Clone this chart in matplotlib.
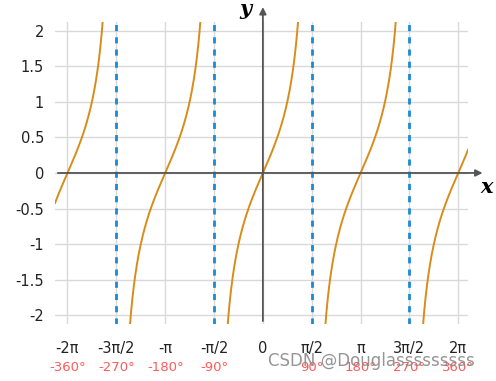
import numpy as np
import matplotlib.pyplot as plt

# tick positions / labels
x_ticks = [-2, -1.5, -1, -0.5, 0, 0.5, 1, 1.5, 2]          # in units of pi
x_labels = ["-2π", "-3π/2", "-π", "-π/2", "0", "π/2", "π", "3π/2", "2π"]
deg_labels = ["-360°", "-270°", "-180°", "-90°", "", "90°", "180°", "270°", "360°"]
y_ticks = [-2, -1.5, -1, -0.5, 0, 0.5, 1, 1.5, 2]
y_labels = ["-2", "-1.5", "-1", "-0.5", "0", "0.5", "1", "1.5", "2"]
asymptotes = [-1.5, -0.5, 0.5, 1.5]                          # in units of pi
x_lim = (-2 * np.pi - 0.4, 2 * np.pi + 0.32)
y_lim = (-2.12, 2.12)

fig = plt.figure(figsize=(4.96, 3.81), dpi=100)
ax = fig.add_axes([0.111, 0.15, 0.833, 0.792])

# tan(x), drawn branch by branch between the asymptotes
edges = [x_lim[0]] + [a * np.pi for a in asymptotes] + [x_lim[1]]
for lo, hi in zip(edges[:-1], edges[1:]):
    xs = np.linspace(lo + 1e-3, hi - 1e-3, 800)
    ys = np.tan(xs)
    ys[np.abs(ys) > 2.2] = np.nan
    ax.plot(xs, ys, color="#d98c1a", lw=1.4, zorder=3)

for a in asymptotes:
    ax.axvline(a * np.pi, color="#1a8ad4", lw=2, ls=(0, (2.2, 2.2)), zorder=2)

ax.set_xlim(*x_lim)
ax.set_ylim(*y_lim)
ax.set_xticks([t * np.pi for t in x_ticks])
ax.set_xticklabels(x_labels)
ax.set_yticks(y_ticks)
ax.set_yticklabels(y_labels)
ax.tick_params(length=0, labelsize=10.5, colors="#222222", pad=8)
ax.tick_params(axis="x", pad=12)
ax.grid(True, color="#d9d9d9", lw=1)
for s in ax.spines.values():
    s.set_visible(False)

# degree labels under the pi labels
for t, d in zip(x_ticks, deg_labels):
    ax.text(t * np.pi, -0.146, d, transform=ax.get_xaxis_transform(),
            ha="center", va="center", color="#ff5a5a", fontsize=9.5)

# axes with arrows
ax.annotate("", xy=(x_lim[1] + 0.55, 0), xytext=(x_lim[0], 0), annotation_clip=False,
            arrowprops=dict(arrowstyle="-|>", color="#555555", lw=1.3, mutation_scale=10))
ax.annotate("", xy=(0, 2.37), xytext=(0, y_lim[0]), annotation_clip=False,
            arrowprops=dict(arrowstyle="-|>", color="#555555", lw=1.3, mutation_scale=10))
ax.text(x_lim[1] + 0.6, -0.2, "x", fontsize=15, family="DejaVu Serif",
        style="italic", weight="bold", ha="center", va="center", clip_on=False)
ax.text(-0.55, 2.3, "y", fontsize=15, family="DejaVu Serif",
        style="italic", weight="bold", ha="center", va="center", clip_on=False)

fig.text(0.54, 0.052, "CSDN @Douglasssssssss", fontsize=12, color="#8a8a8a",
         alpha=0.9, ha="left", va="center")

fig.savefig("out.png", dpi=100)
